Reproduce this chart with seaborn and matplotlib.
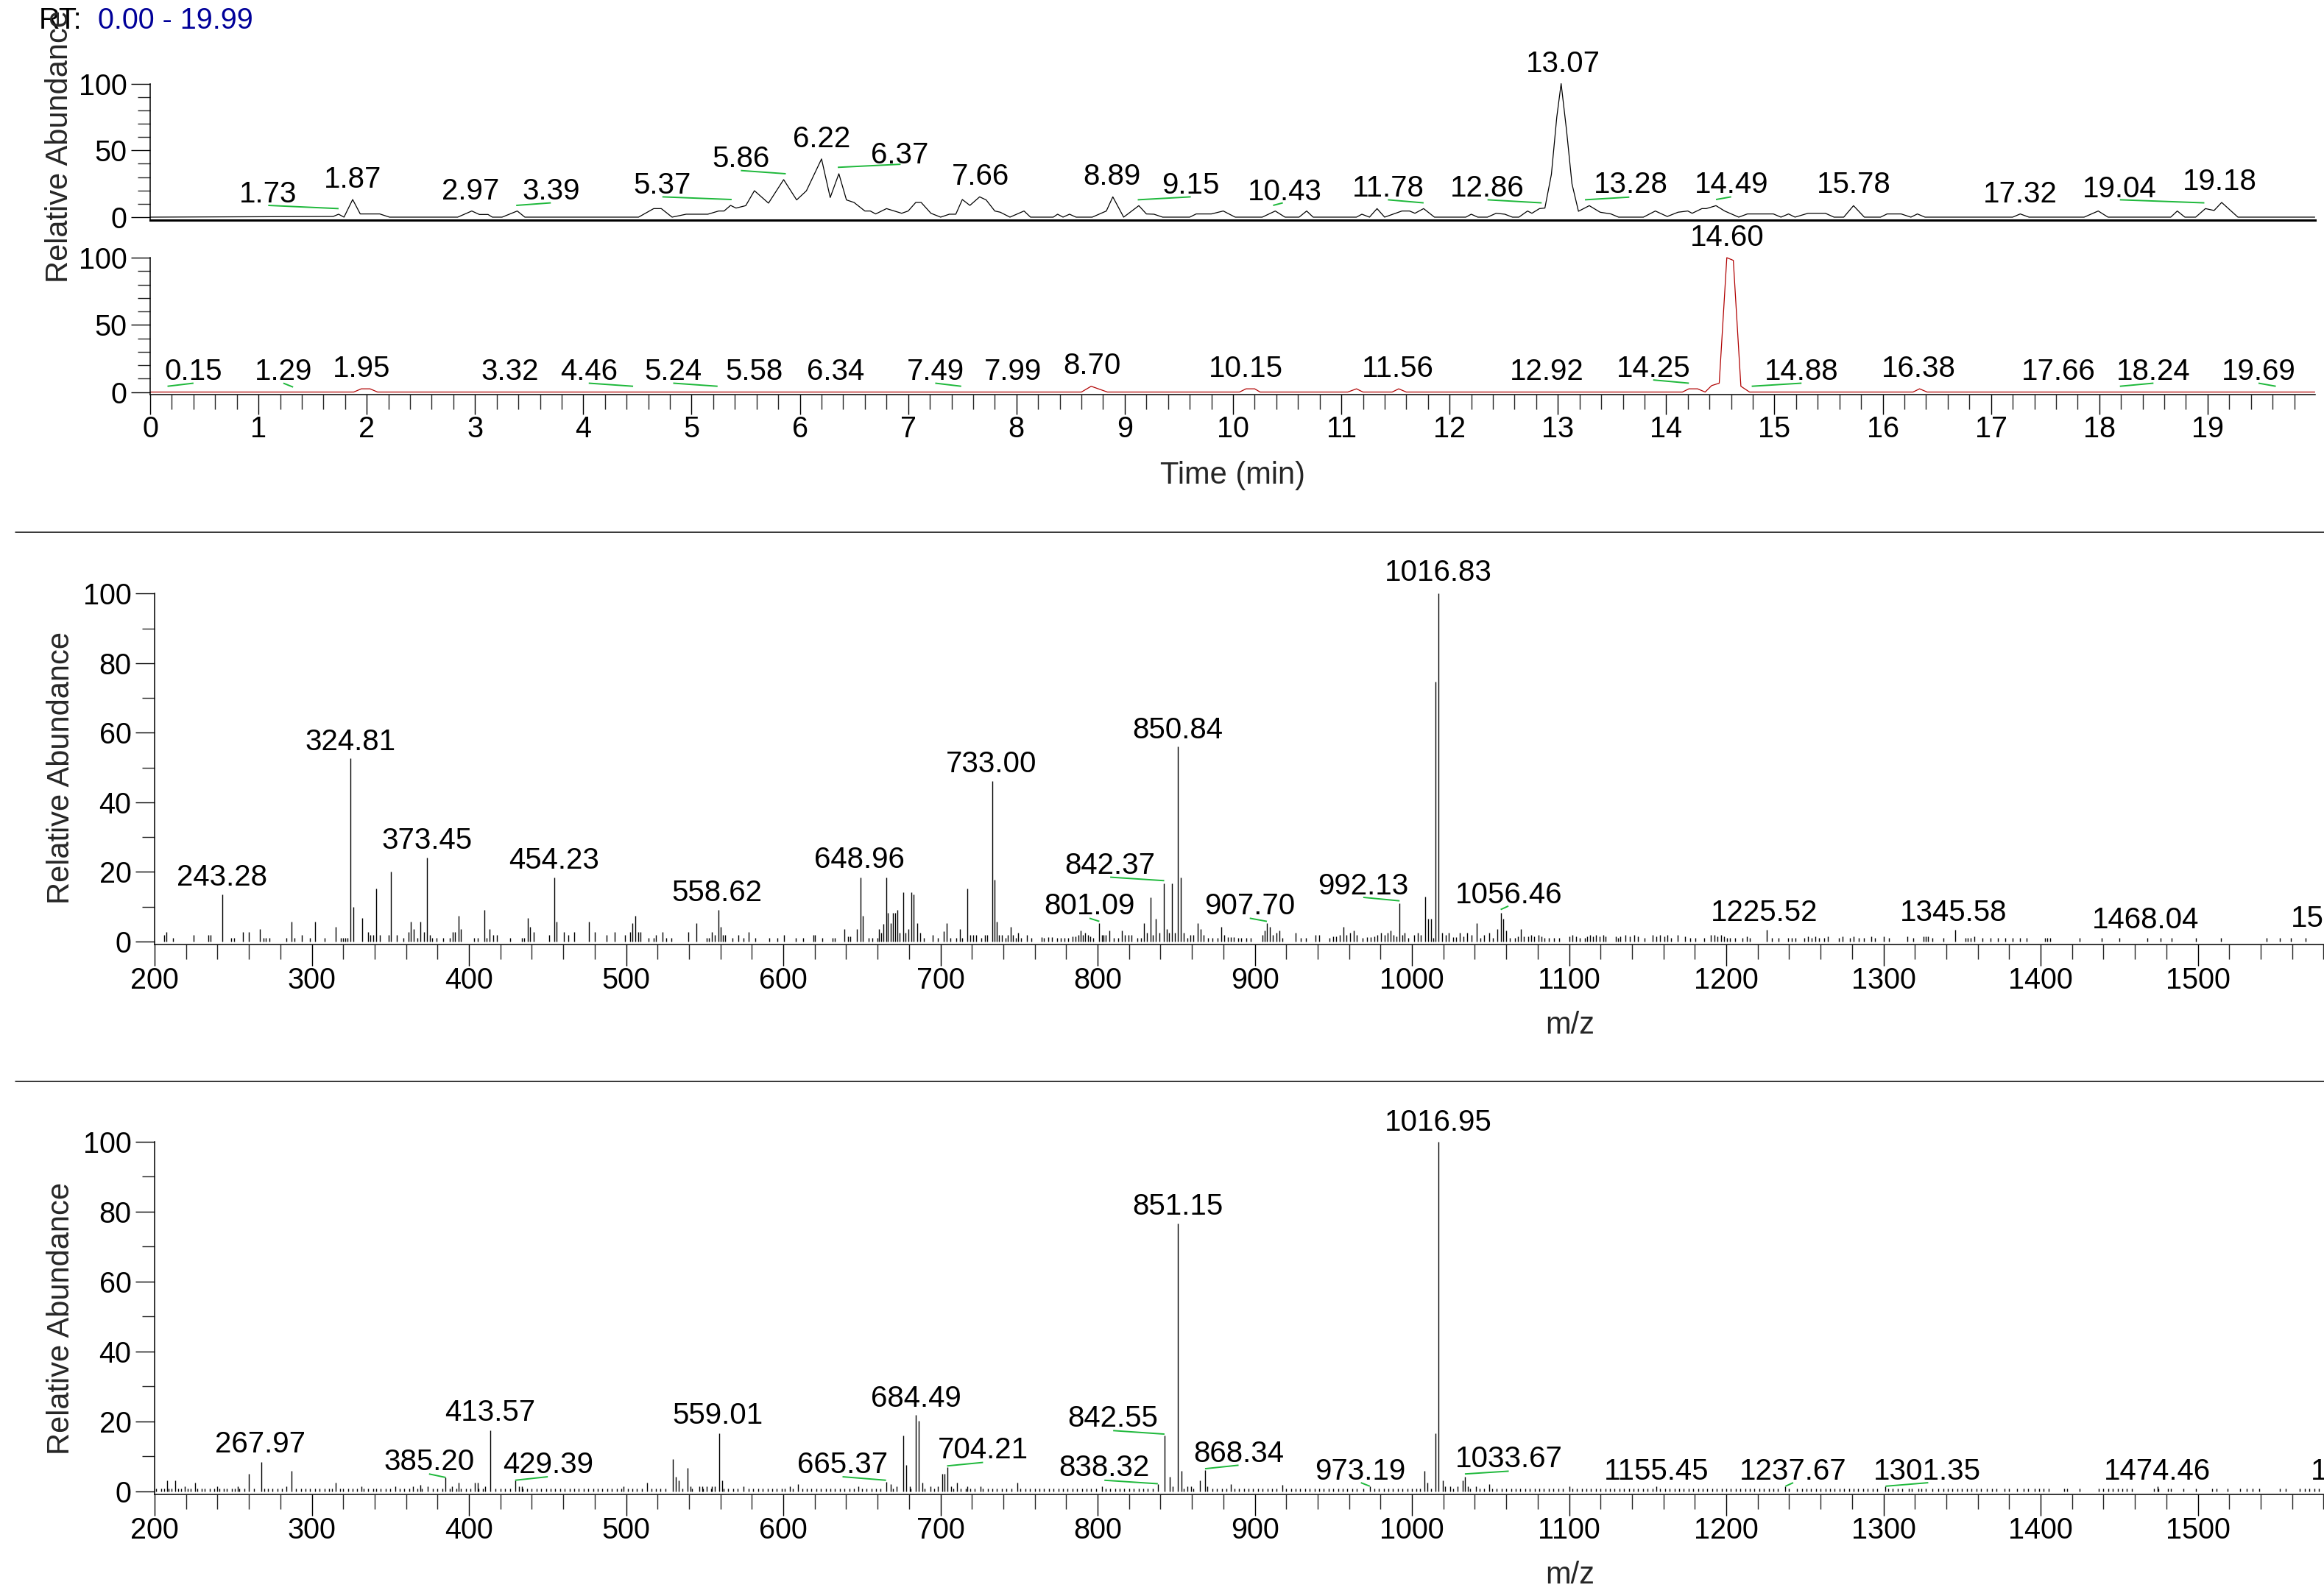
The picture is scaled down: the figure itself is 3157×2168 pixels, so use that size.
import matplotlib
matplotlib.use("Agg")
import numpy as np
import pandas as pd
import matplotlib.pyplot as plt
import seaborn as sns
from matplotlib.lines import Line2D
from matplotlib.ticker import MultipleLocator

# Canvas size in pixels
W, H = 3157, 2168
DPI = 100

LEADER_GREEN = "#1DB83A"
XIC_RED = "#B00000"
RT_BLUE = "#000099"

# ---------------------------------------------------------------
# Data
# ---------------------------------------------------------------

# Top chromatogram (TIC): (time min, relative abundance)
tic_trace = [
    (0.00, 0), (1.69, 0.5), (1.74, 2.2), (1.79, 0), (1.87, 13.2), (1.94, 2.4),
    (2.12, 2.4), (2.21, 0), (2.84, 0), (2.97, 4.6), (3.04, 2.0), (3.12, 2.0),
    (3.16, 0), (3.25, 0), (3.39, 4.6), (3.46, 0), (4.51, 0), (4.65, 6.4),
    (4.72, 6.4), (4.82, 0), (4.95, 2.2), (5.15, 2.2), (5.25, 4.6), (5.30, 4.6),
    (5.36, 8.8), (5.41, 6.8), (5.50, 8.6), (5.58, 19.8), (5.71, 10.5), (5.85, 28.1),
    (5.97, 12.9), (6.06, 19.7), (6.20, 43.6), (6.28, 14.7), (6.36, 32.5), (6.43, 12.9),
    (6.50, 11.0), (6.60, 4.6), (6.65, 4.6), (6.70, 2.4), (6.80, 6.4), (6.94, 2.9),
    (7.00, 4.6), (7.07, 11.0), (7.12, 11.0), (7.21, 2.9), (7.30, 0), (7.38, 2.2),
    (7.44, 2.2), (7.50, 13.2), (7.57, 8.8), (7.66, 15.2), (7.72, 12.9), (7.80, 4.6),
    (7.85, 3.7), (7.94, 0), (8.07, 4.6), (8.13, 0), (8.34, 0), (8.38, 2.2),
    (8.43, 0), (8.49, 2.2), (8.55, 0), (8.70, 0), (8.83, 4.6), (8.89, 15.2),
    (8.99, 0), (9.13, 8.6), (9.20, 2.4), (9.27, 2.2), (9.35, 0), (9.60, 0),
    (9.66, 2.4), (9.80, 2.4), (9.91, 4.6), (10.02, 0), (10.27, 0), (10.39, 4.6),
    (10.48, 0), (10.61, 0), (10.68, 4.6), (10.74, 0), (11.14, 0), (11.19, 2.2),
    (11.26, 0), (11.33, 6.4), (11.40, 0), (11.56, 4.6), (11.63, 4.6), (11.68, 2.9),
    (11.76, 6.4), (11.86, 0), (12.15, 0), (12.20, 2.2), (12.26, 0), (12.35, 0),
    (12.43, 2.9), (12.51, 2.2), (12.58, 0), (12.64, 0), (12.72, 4.6), (12.76, 2.9),
    (12.83, 6.4), (12.88, 6.8), (12.94, 32.0), (12.99, 75.0), (13.03, 100.0), (13.08, 65.0),
    (13.13, 25.0), (13.19, 4.4), (13.29, 8.6), (13.39, 3.7), (13.49, 2.4), (13.56, 0),
    (13.79, 0), (13.90, 4.6), (14.01, 0.5), (14.11, 3.7), (14.20, 4.6), (14.24, 2.9),
    (14.33, 6.4), (14.37, 6.4), (14.46, 8.6), (14.54, 4.6), (14.67, 0), (14.75, 2.4),
    (14.99, 2.4), (15.06, 0), (15.13, 2.4), (15.19, 0), (15.31, 2.9), (15.47, 2.9),
    (15.55, 0), (15.64, 0), (15.73, 8.6), (15.83, 0), (15.98, 0), (16.04, 2.4),
    (16.17, 2.4), (16.26, 0), (16.32, 2.4), (16.39, 0), (17.20, 0), (17.27, 2.4),
    (17.35, 0), (17.86, 0), (17.99, 4.6), (18.08, 0), (18.66, 0), (18.72, 4.6),
    (18.79, 0), (18.89, 0), (18.98, 6.4), (19.06, 5.0), (19.13, 11.0), (19.28, 0),
    (19.99, 0),
]

# Bottom chromatogram (extracted ion, red)
xic_trace = [
    (0.00, 0), (1.88, 0), (1.95, 2.4), (2.03, 2.4), (2.10, 0), (8.60, 0),
    (8.69, 4.3), (8.84, 0), (10.06, 0), (10.12, 2.4), (10.20, 2.4), (10.25, 0),
    (11.06, 0), (11.14, 2.4), (11.20, 0), (11.47, 0), (11.53, 2.4), (11.60, 0),
    (14.15, 0), (14.21, 2.4), (14.29, 2.4), (14.36, 0), (14.42, 4.8), (14.49, 6.6),
    (14.56, 100.0), (14.62, 98.0), (14.69, 4.3), (14.77, 0), (16.28, 0), (16.34, 2.4),
    (16.41, 0), (19.99, 0),
]

# Peak labels (text, x, y of text baseline) and green leader lines (x0, y0, x1, y1)
tic_labels = [
    ("1.73", 1.09, 11.0), ("1.87", 1.87, 22.0), ("2.97", 2.96, 13.4), ("3.39", 3.70, 13.4),
    ("5.37", 4.73, 17.5), ("5.86", 5.455, 37.7), ("6.22", 6.20, 52.4), ("6.37", 6.92, 40.4),
    ("7.66", 7.67, 24.4), ("8.89", 8.88, 24.4), ("9.15", 9.61, 17.8), ("10.43", 10.48, 12.9),
    ("11.78", 11.43, 15.6), ("12.86", 12.35, 15.6), ("13.07", 13.05, 108.8), ("13.28", 13.67, 18.4),
    ("14.49", 14.60, 18.4), ("15.78", 15.73, 18.4), ("17.32", 17.27, 11.0), ("19.04", 18.19, 14.7),
    ("19.18", 19.11, 20.2),
]
tic_leaders = [
    (1.09, 8.8, 1.74, 6.4), (3.38, 8.8, 3.70, 10.7), (4.73, 15.2, 5.37, 13.2),
    (5.455, 34.9, 5.87, 32.5), (6.35, 37.3, 6.93, 39.6), (9.12, 13.0, 9.61, 15.2),
    (10.37, 8.8, 10.46, 10.7), (11.43, 13.0, 11.76, 10.7), (12.35, 13.0, 12.85, 10.7),
    (13.25, 13.0, 13.66, 15.0), (14.46, 13.2, 14.60, 15.2), (18.19, 13.0, 18.97, 10.7),
]

xic_labels = [
    ("0.15", 0.40, 9.0), ("1.29", 1.23, 9.0), ("1.95", 1.95, 11.4), ("3.32", 3.32, 9.0),
    ("4.46", 4.05, 9.0), ("5.24", 4.83, 9.0), ("5.58", 5.58, 9.0), ("6.34", 6.33, 9.0),
    ("7.49", 7.25, 9.0), ("7.99", 7.97, 9.0), ("8.70", 8.70, 13.3), ("10.15", 10.12, 11.4),
    ("11.56", 11.52, 11.4), ("12.92", 12.90, 9.0), ("14.25", 13.88, 11.4), ("14.60", 14.56, 108.8),
    ("14.88", 15.25, 9.0), ("16.38", 16.33, 11.4), ("17.66", 17.62, 9.0), ("18.24", 18.50, 9.0),
    ("19.69", 19.47, 9.0),
]
xic_leaders = [
    (0.16, 4.3, 0.40, 6.6), (1.23, 6.6, 1.32, 3.7), (4.05, 6.6, 4.46, 4.3),
    (4.83, 6.6, 5.24, 4.3), (7.25, 6.6, 7.49, 4.3), (13.88, 9.0, 14.21, 6.6),
    (14.79, 4.3, 15.25, 6.6), (18.19, 4.3, 18.50, 6.6), (19.47, 6.6, 19.63, 4.3),
]

# Mass spectrum 1: (m/z, relative abundance)
ms1_peaks = [
    (206.1, 2.0), (207.7, 2.7), (211.7, 1.0), (224.8, 2.0), (234.0, 2.0), (235.7, 2.0),
    (243.28, 13.5), (248.8, 1.0), (250.4, 1.0), (256.1, 2.7), (260.0, 2.7), (266.9, 3.5),
    (269.2, 1.0), (270.9, 1.0), (273.2, 1.0), (284.0, 1.0), (287.3, 5.8), (289.0, 1.0),
    (293.9, 2.0), (298.8, 1.0), (302.1, 5.8), (308.0, 1.0), (315.2, 4.3), (318.5, 1.0),
    (319.8, 1.0), (321.1, 1.0), (322.8, 1.0), (324.81, 52.7), (326.5, 10.0), (332.1, 6.7),
    (335.7, 2.7), (337.3, 2.0), (339.0, 2.0), (341.0, 15.2), (343.3, 2.0), (348.9, 2.0),
    (350.5, 20.2), (354.1, 2.0), (358.1, 1.0), (361.4, 2.7), (363.0, 5.8), (365.0, 3.5),
    (367.3, 1.0), (369.2, 5.8), (371.2, 2.7), (373.45, 24.2), (375.0, 2.0), (376.6, 1.0),
    (379.5, 1.0), (383.8, 1.0), (387.7, 1.0), (389.7, 2.7), (391.3, 2.7), (393.3, 7.5),
    (394.9, 3.5), (403.1, 1.0), (405.7, 1.0), (409.7, 9.2), (411.3, 1.0), (413.3, 3.5),
    (415.6, 2.0), (417.9, 2.0), (426.4, 1.0), (433.6, 1.0), (435.3, 1.0), (437.3, 6.7),
    (438.9, 4.3), (441.2, 2.7), (451.1, 2.0), (454.23, 18.5), (455.9, 5.8), (460.5, 2.7),
    (463.1, 2.0), (467.1, 2.7), (476.3, 5.8), (480.2, 2.7), (487.8, 2.0), (492.7, 2.7),
    (499.3, 2.0), (502.6, 2.7), (504.2, 5.2), (505.9, 7.5), (507.5, 2.7), (509.2, 2.7),
    (514.1, 1.0), (517.4, 1.0), (519.0, 2.0), (523.0, 2.7), (525.6, 1.0), (528.9, 1.0),
    (539.8, 2.7), (544.7, 5.2), (551.3, 1.0), (552.9, 1.0), (554.6, 2.7), (556.2, 2.0),
    (558.62, 9.2), (560.0, 4.3), (561.4, 2.0), (562.9, 2.0), (567.6, 1.0), (571.6, 2.0),
    (574.9, 1.0), (578.2, 2.7), (582.1, 1.0), (591.3, 1.0), (596.3, 1.0), (600.5, 2.0),
    (607.8, 1.0), (612.7, 1.0), (619.0, 2.0), (620.3, 2.0), (624.6, 1.0), (631.2, 1.0),
    (632.8, 1.0), (638.7, 3.5), (641.0, 1.5), (642.7, 1.5), (646.6, 3.5), (648.96, 18.5),
    (650.5, 7.5), (654.2, 1.0), (656.5, 1.0), (659.8, 1.0), (661.1, 3.5), (662.4, 2.5),
    (663.7, 5.0), (665.4, 18.5), (666.7, 8.2), (668.3, 5.2), (670.0, 8.2), (671.3, 8.2),
    (672.6, 9.2), (674.2, 2.5), (676.2, 14.2), (677.8, 2.5), (679.5, 3.5), (681.5, 14.2),
    (683.1, 13.5), (685.1, 5.2), (687.1, 2.5), (689.3, 1.0), (695.3, 2.0), (698.5, 1.0),
    (702.2, 3.0), (704.1, 5.2), (706.1, 1.0), (710.1, 1.0), (712.4, 3.5), (713.7, 1.0),
    (717.0, 15.2), (718.9, 2.0), (720.9, 2.0), (722.5, 2.0), (726.2, 1.0), (728.1, 2.0),
    (729.8, 2.0), (733.00, 46.1), (734.5, 17.8), (735.8, 5.8), (737.4, 2.0), (739.0, 2.0),
    (741.3, 1.0), (742.9, 2.0), (744.6, 4.2), (746.2, 2.0), (747.9, 1.0), (749.5, 2.5),
    (751.2, 1.0), (755.1, 2.0), (757.7, 1.0), (764.3, 1.2), (765.9, 1.0), (768.5, 1.2),
    (770.8, 1.2), (774.1, 1.0), (776.4, 1.0), (779.0, 1.0), (781.3, 1.0), (784.0, 1.5),
    (786.0, 1.5), (787.9, 2.0), (789.2, 3.2), (790.6, 2.0), (791.9, 2.5), (793.8, 2.0),
    (795.5, 1.5), (797.1, 1.0), (801.09, 5.2), (802.6, 2.0), (803.9, 2.0), (805.3, 2.0),
    (807.6, 3.2), (810.3, 1.0), (812.9, 1.0), (815.5, 3.2), (817.5, 2.0), (819.5, 2.0),
    (821.4, 2.0), (825.1, 1.0), (827.4, 1.0), (829.7, 5.2), (831.6, 2.5), (833.6, 12.7),
    (835.2, 2.0), (837.2, 6.5), (839.2, 2.5), (842.37, 16.8), (843.9, 3.5), (845.2, 2.5),
    (847.2, 16.8), (849.2, 2.5), (850.84, 56.1), (852.8, 18.5), (854.8, 2.5), (857.1, 1.0),
    (859.0, 2.0), (861.0, 2.0), (863.6, 5.2), (865.6, 3.5), (867.6, 2.0), (870.2, 1.0),
    (873.0, 1.0), (876.1, 1.0), (878.7, 4.2), (880.7, 2.0), (882.7, 1.2), (884.6, 1.2),
    (886.6, 1.2), (889.3, 1.0), (891.5, 1.0), (894.8, 1.0), (897.2, 1.0), (904.7, 2.0),
    (906.2, 3.2), (907.70, 5.2), (909.6, 4.2), (911.6, 2.0), (913.6, 2.5), (915.6, 3.2),
    (917.5, 1.0), (926.1, 2.5), (929.3, 1.0), (932.6, 1.0), (938.6, 2.0), (941.2, 2.0),
    (947.4, 1.0), (949.7, 1.5), (951.7, 1.5), (954.0, 2.0), (956.3, 4.2), (958.3, 2.0),
    (960.6, 2.5), (962.9, 3.2), (964.8, 2.0), (968.8, 1.0), (971.4, 1.2), (973.7, 1.2),
    (976.0, 1.5), (978.0, 2.0), (980.3, 2.5), (982.6, 2.0), (984.6, 2.5), (986.5, 3.2),
    (988.5, 2.0), (990.3, 1.5), (992.13, 11.0), (993.8, 2.0), (995.4, 2.5), (997.7, 1.0),
    (1001.6, 2.0), (1003.6, 2.5), (1005.6, 2.0), (1008.2, 12.8), (1010.2, 6.5), (1012.2, 6.5),
    (1013.6, 1.0), (1014.9, 74.7), (1016.83, 100.0), (1019.4, 2.5), (1021.3, 2.0), (1023.3, 2.5),
    (1026.0, 1.2), (1027.9, 1.2), (1030.5, 2.5), (1032.8, 1.5), (1035.2, 2.5), (1037.8, 2.0),
    (1041.1, 5.2), (1043.7, 1.0), (1046.0, 2.0), (1049.3, 2.5), (1051.6, 1.0), (1054.2, 3.5),
    (1056.46, 8.2), (1058.2, 6.5), (1060.1, 3.2), (1062.4, 1.0), (1065.7, 1.0), (1067.4, 1.5),
    (1069.3, 3.5), (1071.3, 1.5), (1073.9, 1.5), (1075.9, 2.0), (1077.9, 1.5), (1080.5, 2.0),
    (1082.5, 1.5), (1084.4, 1.0), (1087.1, 1.0), (1090.3, 1.0), (1093.7, 1.0), (1100.2, 1.5),
    (1102.2, 2.0), (1104.2, 1.5), (1106.8, 1.0), (1110.0, 1.0), (1111.6, 1.5), (1113.2, 2.0),
    (1115.4, 1.5), (1117.0, 2.0), (1119.5, 1.5), (1121.7, 2.0), (1123.3, 1.5), (1129.6, 1.5),
    (1131.2, 1.0), (1132.7, 1.5), (1135.9, 2.0), (1138.4, 1.5), (1141.6, 2.0), (1143.8, 1.5),
    (1147.9, 1.0), (1153.3, 2.0), (1155.5, 1.5), (1158.0, 2.0), (1160.5, 1.5), (1162.7, 2.0),
    (1165.0, 1.0), (1169.1, 2.0), (1173.8, 1.5), (1177.0, 1.0), (1180.1, 1.0), (1185.8, 1.0),
    (1190.2, 2.0), (1192.7, 2.0), (1194.3, 1.5), (1196.5, 2.0), (1198.4, 1.5), (1200.6, 1.0),
    (1202.2, 1.0), (1205.4, 1.0), (1210.1, 1.0), (1213.3, 1.5), (1214.8, 1.0), (1225.52, 3.3),
    (1229.0, 1.0), (1233.2, 1.0), (1239.5, 1.0), (1241.7, 1.0), (1244.2, 1.0), (1249.6, 1.0),
    (1251.8, 1.5), (1254.3, 1.0), (1256.8, 1.5), (1259.0, 1.0), (1262.2, 1.0), (1264.7, 1.5),
    (1271.7, 1.0), (1274.2, 1.5), (1278.6, 1.0), (1281.1, 1.5), (1284.3, 1.0), (1287.5, 1.0),
    (1292.2, 1.5), (1294.7, 1.0), (1300.1, 1.5), (1303.3, 1.0), (1315.3, 1.5), (1319.0, 1.0),
    (1325.4, 1.5), (1326.9, 1.5), (1328.5, 1.5), (1331.0, 1.0), (1338.0, 1.0), (1345.58, 3.3),
    (1352.2, 1.0), (1353.8, 1.0), (1355.7, 1.0), (1357.6, 1.5), (1363.2, 1.0), (1368.0, 1.0),
    (1372.7, 1.0), (1377.5, 1.0), (1382.2, 1.0), (1386.9, 1.0), (1391.0, 1.0), (1402.7, 1.0),
    (1404.3, 1.0), (1406.2, 1.0), (1424.8, 1.0), (1439.0, 1.0), (1450.1, 1.0), (1468.04, 1.0),
    (1476.3, 1.0), (1483.2, 1.0), (1499.0, 1.0), (1514.8, 1.0), (1543.9, 1.0), (1552.1, 1.0),
    (1559.0, 1.0), (1568.5, 1.0),
]

ms1_labels = [
    ("243.28", 243.0, 16.0), ("324.81", 324.7, 55.1), ("373.45", 373.5, 26.6),
    ("454.23", 454.2, 21.0), ("558.62", 557.9, 11.7), ("648.96", 648.5, 21.2),
    ("733.00", 732.2, 48.7), ("801.09", 794.8, 7.8), ("842.37", 808.0, 19.5),
    ("850.84", 850.7, 58.4), ("907.70", 896.8, 7.8), ("992.13", 969.0, 13.5),
    ("1016.83", 1016.8, 103.6), ("1056.46", 1061.4, 11.0), ("1225.52", 1224.3, 6.0),
    ("1345.58", 1344.3, 6.0), ("1468.04", 1466.8, 3.7), ("1594.47", 1593.0, 4.2),
]
ms1_leaders = [
    (794.8, 6.7, 801.09, 5.8), (808.0, 18.5, 842.37, 17.5), (896.8, 6.7, 907.7, 5.8),
    (969.0, 12.7, 992.13, 11.7), (1056.46, 9.2, 1061.4, 10.2),
]

# Mass spectrum 2: peaks standing above the noise floor
ms2_peaks = [
    (207.8, 3.2), (213.3, 3.2), (219.3, 1.5), (225.8, 2.5), (239.6, 1.5), (252.7, 1.5),
    (260.0, 5.0), (267.97, 8.5), (284.0, 1.5), (287.3, 5.8), (315.2, 2.5), (331.7, 1.5),
    (353.0, 1.5), (364.5, 1.5), (369.0, 1.8), (373.7, 1.5), (385.20, 4.0), (389.1, 1.5),
    (393.3, 2.5), (403.9, 2.5), (405.5, 2.5), (410.5, 1.5), (413.57, 17.4), (429.39, 3.2),
    (431.9, 1.5), (433.5, 1.5), (498.5, 1.5), (513.3, 2.5), (529.7, 9.2), (531.4, 4.2),
    (533.7, 3.2), (539.3, 6.7), (541.2, 1.5), (546.8, 1.5), (548.5, 1.5), (551.3, 1.5),
    (554.6, 1.5), (556.5, 1.5), (559.01, 16.6), (560.9, 3.2), (574.8, 1.5), (604.4, 1.5),
    (609.3, 2.0), (647.6, 1.5), (665.37, 2.7), (668.3, 2.0), (672.3, 1.5), (676.5, 15.9),
    (678.4, 7.5), (680.5, 1.5), (684.49, 21.8), (686.0, 20.1), (688.3, 2.5), (693.6, 1.5),
    (698.5, 1.5), (701.1, 5.0), (702.5, 5.0), (704.21, 7.0), (706.6, 1.5), (710.7, 2.5),
    (717.2, 1.5), (725.4, 1.5), (749.0, 2.5), (802.6, 1.5), (838.32, 2.0), (842.55, 15.9),
    (845.7, 4.2), (847.7, 1.5), (851.15, 76.7), (853.2, 5.8), (857.0, 1.5), (859.6, 1.5),
    (865.2, 3.2), (868.34, 6.0), (870.0, 1.5), (884.8, 2.0), (917.7, 1.8), (973.19, 1.5),
    (1008.0, 5.8), (1009.6, 2.5), (1015.0, 16.6), (1016.95, 100.0), (1019.5, 3.2), (1021.2, 1.5),
    (1024.4, 1.5), (1029.0, 1.5), (1032.2, 3.2), (1033.67, 4.2), (1035.5, 1.5), (1040.5, 1.5),
    (1049.0, 2.0), (1100.0, 1.5), (1155.45, 1.5), (1237.67, 1.5), (1301.35, 1.5), (1474.46, 1.5),
]

# Mass spectrum 2: dense noise floor, all close to 1 %
ms2_noise_level = 0.9
ms2_noise_mz = [
    201, 204, 206, 209, 211, 215, 217, 221, 223, 227, 230, 232, 235, 238, 241, 244, 246, 249,
    251, 254, 257, 263, 270, 272, 275, 278, 281, 290, 293, 296, 299,
    302, 305, 308, 311, 313, 318, 320, 323, 326, 329, 333, 336, 339, 341, 344, 347, 350, 356,
    359, 362, 367, 370, 377, 380, 383, 388, 392, 395, 398,
    401, 406, 409, 417, 420, 423, 426, 434, 437, 440, 443, 446, 449, 452, 455, 458, 461, 464,
    467, 470, 473, 476, 479, 482, 485, 488, 491, 494, 497,
    501, 504, 507, 510, 516, 519, 522, 525, 536, 542, 549, 554, 562, 565, 568, 571, 578, 581,
    584, 587, 590, 593, 596, 599,
    601, 606, 612, 615, 618, 621, 624, 627, 630, 633, 636, 639, 642, 645, 650, 653, 656, 659,
    662, 670, 681, 690, 696,
    708, 713, 716, 719, 722, 727, 730, 733, 736, 739, 742, 745, 751, 754, 757, 760, 763, 766,
    769, 772, 775, 778, 781, 784, 787, 790, 793, 796, 799,
    805, 808, 811, 814, 817, 820, 823, 826, 829, 832, 835, 855, 861, 873, 876, 879, 882, 887,
    890, 893, 896, 899,
    902, 905, 908, 911, 914, 920, 923, 926, 929, 932, 935, 938, 941, 944, 947, 950, 953, 956,
    959, 962, 965, 969, 976, 979, 982, 985, 988, 991, 994, 997,
    1000, 1003, 1005, 1012, 1026, 1037, 1043, 1046, 1051, 1054, 1057, 1060, 1063, 1066, 1069,
    1072, 1075, 1078, 1081, 1084, 1087, 1090, 1093, 1096, 1102,
    1105, 1108, 1111, 1114, 1117, 1120, 1123, 1126, 1129, 1132, 1135, 1138, 1141, 1144, 1147,
    1150, 1153, 1158, 1161, 1164, 1167, 1170, 1173, 1176, 1179, 1182, 1185, 1188, 1191, 1194, 1197,
    1200, 1203, 1206, 1209, 1212, 1215, 1218, 1221, 1224, 1227, 1230, 1233, 1240, 1245, 1248,
    1251, 1254, 1257, 1260, 1263, 1266, 1269, 1272, 1275, 1278, 1281, 1284, 1287, 1290, 1293, 1296,
    1303, 1306, 1309, 1312, 1316, 1318, 1322, 1324, 1327, 1331, 1335, 1338, 1341, 1344, 1347,
    1350, 1353, 1356, 1359, 1362, 1366, 1369, 1372, 1377, 1380, 1385, 1389, 1392, 1396, 1399,
    1402, 1405, 1415, 1417, 1425, 1437, 1440, 1443, 1446, 1449, 1452, 1455, 1458, 1472, 1475,
    1481, 1483, 1491, 1499,
    1509, 1512, 1519, 1527, 1531, 1535, 1539, 1552, 1556, 1565, 1568, 1571, 1574, 1577,
]

ms2_labels = [
    ("267.97", 267.4, 11.1), ("385.20", 374.6, 6.0), ("413.57", 413.4, 20.1),
    ("429.39", 450.2, 5.2), ("559.01", 558.5, 19.3), ("665.37", 637.7, 5.2),
    ("684.49", 684.4, 24.3), ("704.21", 727.1, 9.5), ("838.32", 804.3, 4.5),
    ("842.55", 809.9, 18.6), ("851.15", 851.0, 79.2), ("868.34", 889.7, 8.5),
    ("973.19", 966.9, 3.3), ("1016.95", 1016.9, 103.2), ("1033.67", 1061.6, 7.0),
    ("1155.45", 1155.5, 3.3), ("1237.67", 1242.3, 3.3), ("1301.35", 1327.9, 3.3),
    ("1474.46", 1474.4, 3.3), ("1607.83", 1606.0, 3.3),
]
ms2_leaders = [
    (374.6, 5.0, 385.2, 4.0), (429.39, 3.2, 450.2, 4.2), (637.7, 4.2, 665.37, 3.2),
    (704.21, 7.3, 727.1, 8.3), (804.3, 3.2, 838.32, 2.2), (809.9, 17.4, 842.55, 16.4),
    (868.34, 6.5, 889.7, 7.5), (967.5, 2.5, 973.19, 1.5), (1033.67, 5.0, 1061.6, 5.8),
    (1237.67, 1.5, 1242.6, 2.5), (1301.35, 1.5, 1328.5, 2.5),
]


def px_rect(left, top, right, bottom):
    """Axes rectangle from pixel edges (origin top-left)."""
    return [left / W, 1 - bottom / H, (right - left) / W, (bottom - top) / H]


def fig_text(fig, x_px, y_px, s, **kw):
    return fig.text(x_px / W, 1 - y_px / H, s, **kw)


def style_axis(ax, ylim, ymajor, xmajor, xminor, xlen):
    for side in ("top", "right"):
        ax.spines[side].set_visible(False)
    for side in ("left", "bottom"):
        ax.spines[side].set_linewidth(1.1)
        ax.spines[side].set_color("black")
    ax.set_ylim(*ylim)
    ax.spines["left"].set_bounds(ylim[0], 100)
    ax.yaxis.set_major_locator(MultipleLocator(ymajor))
    ax.yaxis.set_minor_locator(MultipleLocator(10))
    ax.xaxis.set_major_locator(MultipleLocator(xmajor))
    ax.xaxis.set_minor_locator(MultipleLocator(xminor))
    ax.tick_params(axis="y", which="major", length=18.7, width=1.0, pad=4,
                   labelsize=28.5, direction="out", colors="black")
    ax.tick_params(axis="y", which="minor", length=12.6, width=1.0, direction="out")
    ax.tick_params(axis="x", which="major", length=xlen, width=1.0, pad=0.5,
                   labelsize=28.5, direction="out", colors="black")
    ax.tick_params(axis="x", which="minor", length=14.4, width=1.0, direction="out")
    ax.set_facecolor("white")
    ax.grid(False)
    ax.set_xlabel("")
    ax.set_ylabel("")


def annotate(ax, labels, leaders):
    for x0, y0, x1, y1 in leaders:
        ax.plot([x0, x1], [y0, y1], color=LEADER_GREEN, lw=1.4, clip_on=False,
                solid_capstyle="butt")
    for text, x, y in labels:
        ax.text(x, y, text, ha="center", va="baseline", fontsize=29,
                color="black", clip_on=False)


sns.set_theme(style="ticks")
plt.rcParams["font.family"] = ["Liberation Sans", "DejaVu Sans"]

fig = plt.figure(figsize=(W / DPI, H / DPI), dpi=DPI, facecolor="white")

ax_tic = fig.add_axes(px_rect(204, 104.5, 3144.5, 298.6))
ax_xic = fig.add_axes(px_rect(204, 340.9, 3144.5, 536.2))
ax_ms1 = fig.add_axes(px_rect(210, 797.0, 3157, 1283.0))
ax_ms2 = fig.add_axes(px_rect(210, 1541.5, 3157, 2030.0))

# --- chromatograms ---
tic_df = pd.DataFrame(tic_trace, columns=["time", "abundance"])
xic_df = pd.DataFrame(xic_trace, columns=["time", "abundance"])

sns.lineplot(data=tic_df, x="time", y="abundance", ax=ax_tic, color="black",
             lw=0.9, estimator=None, sort=False)
sns.lineplot(data=xic_df, x="time", y="abundance", ax=ax_xic, color=XIC_RED,
             lw=0.9, estimator=None, sort=False)

for ax in (ax_tic, ax_xic):
    style_axis(ax, (-2, 105), 50, 1, 0.2, 19.4)
    ax.set_xlim(0, 19.99)

ax_tic.tick_params(axis="x", which="both", bottom=False, labelbottom=False)
ax_tic.spines["bottom"].set_linewidth(2.2)

annotate(ax_tic, tic_labels, tic_leaders)
annotate(ax_xic, xic_labels, xic_leaders)

# --- mass spectra ---
ms1_mz, ms1_rel = zip(*ms1_peaks)
ms2_mz, ms2_rel = zip(*ms2_peaks)

ax_ms1.vlines(ms1_mz, 0, ms1_rel, color="black", lw=1.0)
ax_ms2.vlines(ms2_noise_mz, 0, ms2_noise_level, color="black", lw=1.0)
ax_ms2.vlines(ms2_mz, 0, ms2_rel, color="black", lw=1.0)

for ax in (ax_ms1, ax_ms2):
    style_axis(ax, (-0.85, 102), 20, 100, 20, 21)
    ax.set_xlim(200, 1580.3)

annotate(ax_ms1, ms1_labels, ms1_leaders)
annotate(ax_ms2, ms2_labels, ms2_leaders)

# --- figure level text ---
fig_text(fig, 53, 28, "RT:", fontsize=28.5, color="black", va="center", ha="left", zorder=1)
fig_text(fig, 133, 28, "0.00 - 19.99", fontsize=28.5, color=RT_BLUE, va="center", ha="left")

fig_text(fig, 81, 199, "Relative Abundance", fontsize=30, rotation=90,
         ha="center", va="center", zorder=2)
fig_text(fig, 83, 1043, "Relative Abundance", fontsize=30, rotation=90,
         ha="center", va="center")
fig_text(fig, 83, 1791, "Relative Abundance", fontsize=30, rotation=90,
         ha="center", va="center")

fig_text(fig, 1675, 646, "Time (min)", fontsize=30, ha="center", va="center")
fig_text(fig, 2133, 1393, "m/z", fontsize=30, ha="center", va="center")
fig_text(fig, 2133, 2140, "m/z", fontsize=30, ha="center", va="center")

# separators between the chromatogram and the two spectra
for y_px in (722.5, 1469.0):
    yf = 1 - y_px / H
    fig.add_artist(Line2D([21 / W, 1.0], [yf, yf], transform=fig.transFigure,
                          color="black", lw=1.1))

fig.savefig("out.png", dpi=DPI, facecolor="white")
